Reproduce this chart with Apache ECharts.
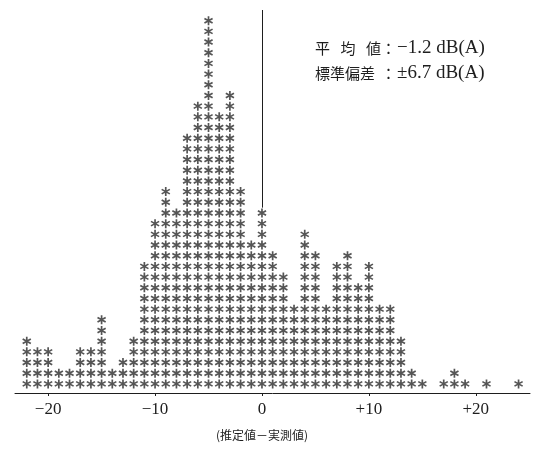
<!DOCTYPE html>
<html><head><meta charset="utf-8">
<script src="https://cdn.jsdelivr.net/npm/echarts@6/dist/echarts.min.js"></script>
<style>html,body{margin:0;padding:0;background:#fff}#c{width:542px;height:452px}</style>
</head><body><div id="c"></div>
<script>
// histogram bins (dB) and number of asterisks stacked in each
const bins = [-22,-21,-20,-19,-18,-17,-16,-15,-14,-13,-12,-11,-10,-9,-8,-7,-6,-5,-4,-3,-2,-1,0,1,2,3,4,5,6,7,8,9,10,11,12,13,14,15,16,17,18,19,20,21,22,23,24];
const counts = [5,4,4,2,2,4,4,7,2,3,5,12,16,19,17,24,27,35,26,28,19,14,17,13,11,8,15,13,8,12,13,10,12,8,8,5,2,1,0,1,2,1,0,1,0,0,1];
const tickValues = [-20,-10,0,10,20];
const tickLabels = ['\u221220','\u221210','0','+10','+20'];
const statLabels = ['\u5e73\u2002\u2009\u5747\u2002\u2009\u5024', '\u6a19\u6e96\u504f\u5dee'];
const statValues = ['\u22121.2 dB(A)', '\u00b16.7 dB(A)'];
const xTitle = '(\u63a8\u5b9a\u5024\uff0d\u5b9f\u6e2c\u5024)';
const zeroLineRange = [17.5, 36];

const points = [];
bins.forEach((b, i) => { for (let k = 1; k <= counts[i]; k++) points.push([b, k]); });

const star = 'path://M-0.9,-5L0.9,-5L0.9,5L-0.9,5ZM3.88,-3.28L4.78,-1.72L-3.88,3.28L-4.78,1.72ZM4.78,1.72L3.88,3.28L-4.78,-1.72L-3.88,-3.28Z';
const ink = '#1e1e1e';
const serif = '"Liberation Serif","DejaVu Serif",serif';
const cjk = '"Noto Sans CJK JP",sans-serif';

const chart = echarts.init(document.getElementById('c'));
const graphics = [];
statLabels.forEach((t, i) => {
  const y = 48 + i * 25;
  graphics.push({type:'text', style:{text:t, x:315, y:y, fill:ink, font:'15px ' + cjk, verticalAlign:'middle'}});
  graphics.push({type:'text', style:{text:'\uff1a', x:381, y:y, fill:ink, font:'15px ' + cjk, verticalAlign:'middle'}});
  graphics.push({type:'text', style:{text:statValues[i], x:397, y:y, fill:ink, font:'19px ' + serif, verticalAlign:'middle'}});
});
graphics.push({type:'text', style:{text:xTitle, x:262, y:435, fill:ink, font:'12px ' + cjk, align:'center', verticalAlign:'middle'}});

chart.setOption({
  animation:false,
  backgroundColor:'#fff',
  grid:{left:15, right:12, top:10, bottom:59, containLabel:false, outerBoundsMode:'none'},
  xAxis:{
    type:'value', min:-23.1, max:25.07,
    axisLine:{show:true, lineStyle:{color:ink, width:1}},
    axisTick:{show:true, customValues:tickValues, length:3, lineStyle:{color:ink}},
    axisLabel:{customValues:tickValues, color:ink, fontFamily:serif, fontSize:17, margin:8,
      formatter:function(v){ const i = tickValues.indexOf(Math.round(v)); return i >= 0 ? tickLabels[i] : ''; }},
    splitLine:{show:false}
  },
  yAxis:{type:'value', min:0.15, max:36, show:false, splitLine:{show:false}},
  graphic:graphics,
  series:[{
    type:'scatter', data:points, symbol:star, symbolSize:[9,9],
    itemStyle:{color:'#2a2a2a'}, silent:true,
    markLine:{silent:true, symbol:'none', label:{show:false},
      lineStyle:{color:ink, width:1, type:'solid'},
      data:[[{coord:[0, zeroLineRange[0]]},{coord:[0, zeroLineRange[1]]}]]}
  }]
});
</script></body></html>
